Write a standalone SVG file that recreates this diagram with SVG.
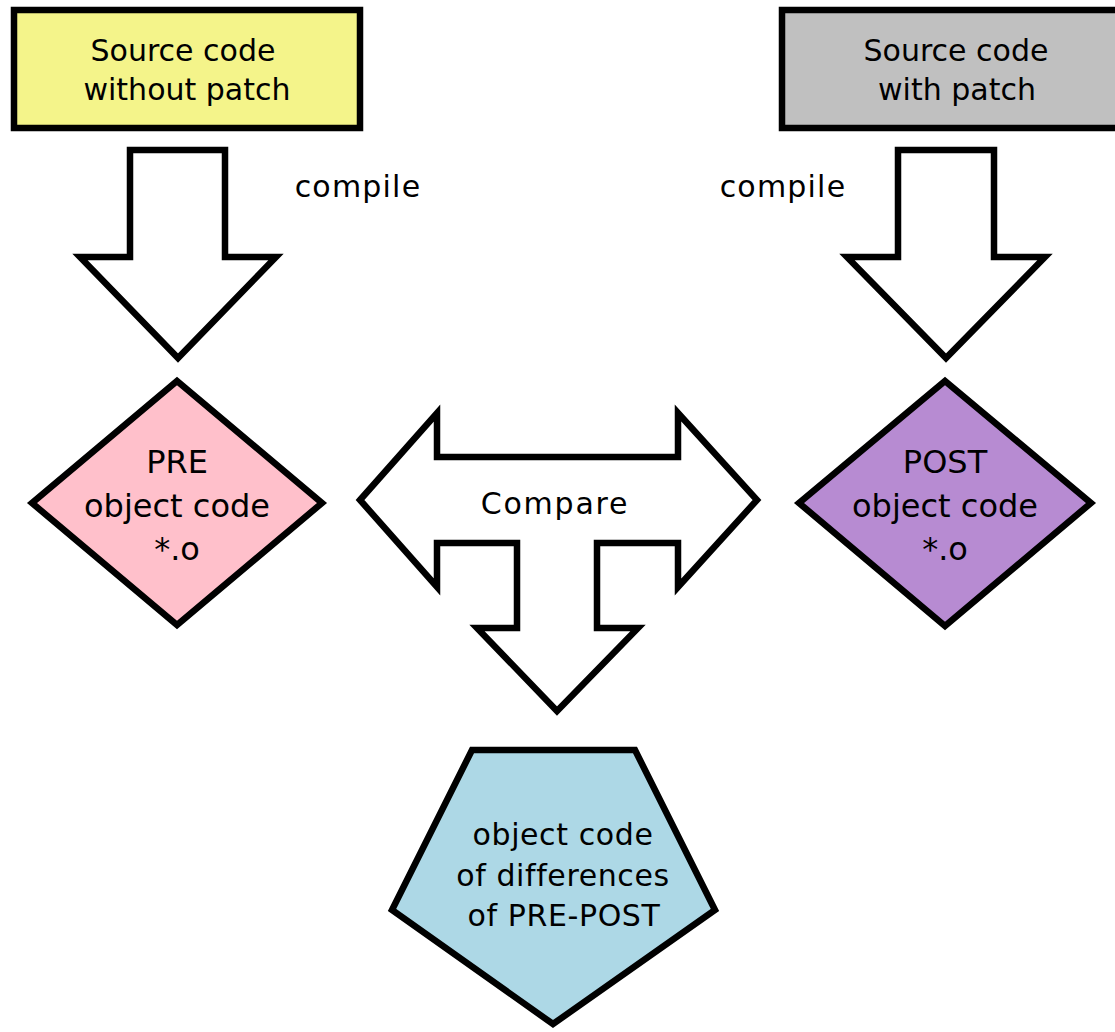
<svg xmlns="http://www.w3.org/2000/svg" width="1115" height="1032" viewBox="0 0 1115 1032">
  <style>
    .shape { stroke: #000; stroke-width: 6.5; stroke-linejoin: miter; stroke-miterlimit: 10; }
    .arrow { fill: #fff; stroke: #000; stroke-width: 6.5; stroke-linejoin: miter; stroke-miterlimit: 10; }
    text { font-family: "DejaVu Sans", "Bitstream Vera Sans", sans-serif; font-size: 30px; fill: #000; text-anchor: middle; }
    .box { font-size: 30px; }
    .label { font-size: 30px; letter-spacing: 1.2px; }
    .big { font-size: 32px; }
    .diff { font-size: 30px; letter-spacing: 0.6px; }
  </style>
  <rect width="1115" height="1032" fill="#fff"/>

  <!-- arrows between the stages -->
  <g id="connectors">
    <polygon id="compile-left" class="arrow" points="130,150 225,150 225,257 276,257 178,358 80,257 130,257"/>
    <polygon id="compile-right" class="arrow" points="898,150 994,150 994,257 1045,257 946,358 847,257 898,257"/>
    <polygon id="compare" class="arrow" points="360,500 437,413 437,457 678,457 678,413 757,500 678,587 678,543 597,543 597,628 638,628 557,711 477,628 517,628 517,543 437,543 437,587"/>
    <text class="label" x="358" y="197">compile</text>
    <text class="label" x="783" y="197">compile</text>
    <text class="label" x="555" y="514" style="letter-spacing:1.8px">Compare</text>
  </g>

  <g id="src-without-patch">
    <rect class="shape" x="14" y="10" width="346" height="118" fill="#f4f48a"/>
    <text class="box" x="183" y="61">Source code</text>
    <text class="box" x="187" y="100">without patch</text>
  </g>

  <g id="src-with-patch">
    <rect class="shape" x="782" y="10" width="360" height="118" fill="#c0c0c0"/>
    <text class="box" x="956" y="61">Source code</text>
    <text class="box" x="957" y="100">with patch</text>
  </g>

  <g id="pre-object">
    <polygon class="shape" points="177,381 322,503 177,625 32,503" fill="#ffc0cb"/>
    <text class="big" x="177" y="473">PRE</text>
    <text class="big" x="177" y="517">object code</text>
    <text class="big" x="177" y="560">*.o</text>
  </g>

  <g id="post-object">
    <polygon class="shape" points="945,381 1091,503 945,626 799,503" fill="#b78bd2"/>
    <text class="big" x="945" y="473">POST</text>
    <text class="big" x="945" y="517">object code</text>
    <text class="big" x="945" y="560">*.o</text>
  </g>

  <g id="diff-object">
    <polygon class="shape" points="472,750 635,750 715,910 553,1024 392,910" fill="#add8e6"/>
    <text class="diff" x="563" y="845">object code</text>
    <text class="diff" x="563" y="886">of differences</text>
    <text class="diff" x="564" y="926">of PRE-POST</text>
  </g>
</svg>
